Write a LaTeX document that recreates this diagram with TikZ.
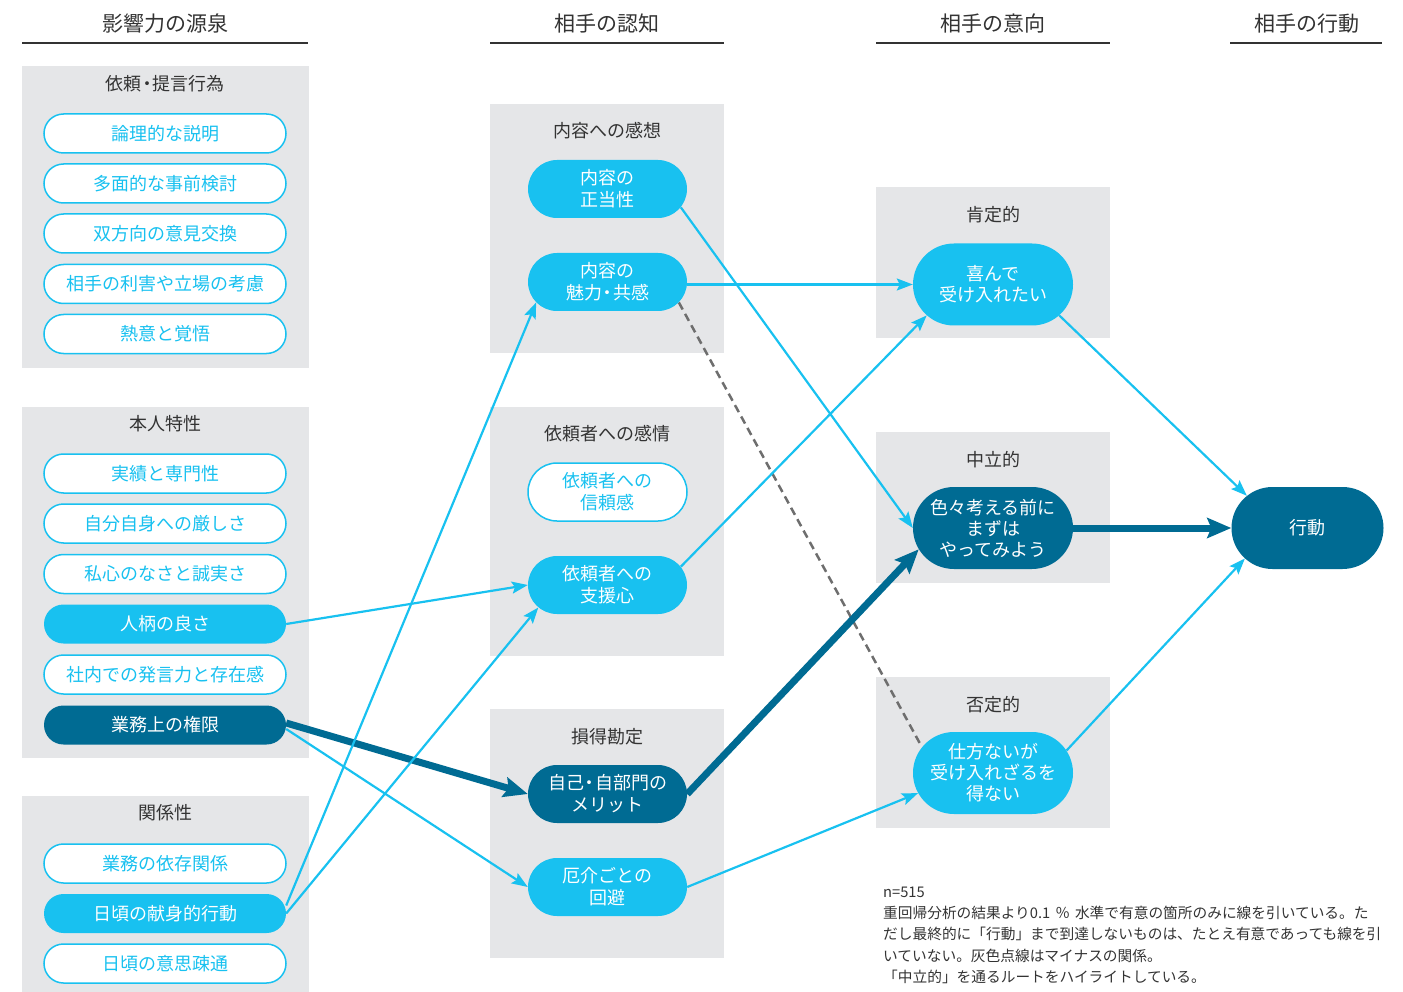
\documentclass[tikz,border=0pt]{standalone}
\usepackage{fontspec}
\setmainfont{Noto Sans CJK JP}
\usetikzlibrary{shapes.misc,arrows.meta,calc}
\definecolor{lb}{RGB}{24,193,240}
\definecolor{db}{RGB}{0,107,147}
\definecolor{bx}{RGB}{229,230,232}
\definecolor{tx}{RGB}{51,51,51}
\definecolor{dg}{RGB}{110,110,110}
\pgfdeclarelayer{bglayer}
\pgfdeclarelayer{edgelayer}
\pgfsetlayers{bglayer,edgelayer,main}
\newcommand{\nakaguro}{\hspace{-3.5pt}・\hspace{-3.5pt}}
\begin{document}
\begin{tikzpicture}[x=1pt,y=-1pt,
  grp/.style={fill=bx, inner sep=0pt},
  hdr/.style={text=tx, font=\fontsize{21}{25}\selectfont, inner sep=0pt},
  hline/.style={draw=tx, line width=2pt},
  gtitle/.style={text=tx, font=\fontsize{18}{21}\selectfont, inner sep=0pt},
  pill/.style={rounded rectangle, inner sep=0pt, align=center},
  lnode/.style={pill, minimum width=242pt, minimum height=39pt, font=\fontsize{18}{21}\selectfont},
  mnode/.style={pill, minimum width=159pt, minimum height=58pt, font=\fontsize{18}{22}\selectfont},
  rnode/.style={pill, minimum width=160pt, minimum height=82pt, font=\fontsize{18}{21}\selectfont},
  outl/.style={draw=lb, line width=1.5pt, fill=white, text=lb},
  lfill/.style={fill=lb, text=white},
  dfill/.style={fill=db, text=white},
  la/.style={draw=lb, line width=2.2pt, -{Stealth[length=16pt,width=12pt,inset=3pt]}},
  da/.style={draw=db, line width=7pt, -{Stealth[length=24pt,width=20pt,inset=4pt]}},
  dl/.style={draw=dg, line width=2.5pt, dash pattern=on 8pt off 5pt},
  note/.style={text=tx, font=\fontsize{14.7}{21.4}\selectfont, align=left, inner sep=0pt}
]
\useasboundingbox (0,0) rectangle (1403,992);

% headers
\node[hdr] (h1) at (165,24) {影響力の源泉};
\node[hdr] (h2) at (607,24) {相手の認知};
\node[hdr] (h3) at (993,24) {相手の意向};
\node[hdr] (h4) at (1307,24) {相手の行動};
\draw[hline] (22,43) -- (308,43);
\draw[hline] (490,43) -- (724,43);
\draw[hline] (876,43) -- (1110,43);
\draw[hline] (1230,43) -- (1382,43);

% group boxes
\begin{pgfonlayer}{bglayer}
\node[grp, minimum width=287pt, minimum height=302pt] (g1) at (165.5,217) {};
\node[grp, minimum width=287pt, minimum height=351pt] (g2) at (165.5,582.5) {};
\node[grp, minimum width=287pt, minimum height=196pt] (g3) at (165.5,894) {};
\node[grp, minimum width=234pt, minimum height=249pt] (m1) at (607,228.5) {};
\node[grp, minimum width=234pt, minimum height=249pt] (m2) at (607,531.5) {};
\node[grp, minimum width=234pt, minimum height=249pt] (m3) at (607,833.5) {};
\node[grp, minimum width=234pt, minimum height=151pt] (r1) at (993,262.5) {};
\node[grp, minimum width=234pt, minimum height=151pt] (r2) at (993,507.5) {};
\node[grp, minimum width=234pt, minimum height=151pt] (r3) at (993,752.5) {};
\end{pgfonlayer}

% group titles
\node[gtitle] (t1) at (165,84) {依頼\nakaguro 提言行為};
\node[gtitle] (t2) at (165,424) {本人特性};
\node[gtitle] (t3) at (165,813) {関係性};
\node[gtitle] (t4) at (607,131) {内容への感想};
\node[gtitle] (t5) at (607,434) {依頼者への感情};
\node[gtitle] (t6) at (607,737) {損得勘定};
\node[gtitle] (t7) at (993,215) {肯定的};
\node[gtitle] (t8) at (993,460) {中立的};
\node[gtitle] (t9) at (993,705) {否定的};

% left nodes
\node[lnode, outl] (ronri) at (165,133.5) {論理的な説明};
\node[lnode, outl] (tamen) at (165,183.5) {多面的な事前検討};
\node[lnode, outl] (sohoko) at (165,233.5) {双方向の意見交換};
\node[lnode, outl] (rigai) at (165,284) {相手の利害や立場の考慮};
\node[lnode, outl] (netsui) at (165,334) {熱意と覚悟};

\node[lnode, outl] (jisseki) at (165,473.5) {実績と専門性};
\node[lnode, outl] (jibun) at (165,523.5) {自分自身への厳しさ};
\node[lnode, outl] (shishin) at (165,574) {私心のなさと誠実さ};
\node[lnode, lfill] (hito) at (165,624) {人柄の良さ};
\node[lnode, outl] (shanai) at (165,674.5) {社内での発言力と存在感};
\node[lnode, dfill] (gyomu) at (165,725) {業務上の権限};

\node[lnode, outl] (izon) at (165,863.5) {業務の依存関係};
\node[lnode, lfill] (kenshin) at (165,913.5) {日頃の献身的行動};
\node[lnode, outl] (ishi) at (165,963.5) {日頃の意思疎通};

% middle nodes
\node[mnode, lfill] (seito) at (607.5,189) {内容の\\正当性};
\node[mnode, lfill] (miryoku) at (607.5,282) {内容の\\魅力\nakaguro 共感};
\node[mnode, outl] (shinrai) at (607.5,492) {依頼者への\\信頼感};
\node[mnode, lfill] (shien) at (607.5,585) {依頼者への\\支援心};
\node[mnode, dfill] (merit) at (607.5,794) {自己\nakaguro 自部門の\\メリット};
\node[mnode, lfill] (kaihi) at (607.5,887) {厄介ごとの\\回避};

% right nodes
\node[rnode, lfill] (yorokobi) at (993,284.5) {喜んで\\受け入れたい};
\node[rnode, dfill] (churitsu) at (993,528) {色々考える前に\\まずは\\やってみよう};
\node[rnode, lfill] (shikata) at (993,773) {仕方ないが\\受け入れざるを\\得ない};
\node[rnode, dfill, minimum width=152pt] (kodo) at (1307.5,528) {行動};

% note
\node[note, anchor=north west] (nt) at (883,886.5) {n=515\\重回帰分析の結果より0.1\hspace{5pt}％\hspace{5pt}水準で有意の箇所のみに線を引いている。た\\だし最終的に「行動」まで到達しないものは、たとえ有意であっても線を引\\いていない。灰色点線はマイナスの関係。\\「中立的」を通るルートをハイライトしている。};

% edges
\begin{pgfonlayer}{edgelayer}
\draw[la] (hito.east) -- (shien.west);
\draw[da] ([yshift=2pt]gyomu.east) -- (merit.west);
\draw[la] ([yshift=-4pt]gyomu.east) -- (kaihi.west);
\draw[la] ([yshift=8pt]kenshin.east) -- (miryoku.196);
\draw[la] (kenshin.east) -- (shien.198);
\draw[la] (seito.-14) -- (churitsu.west);
\draw[la] (miryoku.east |- yorokobi.west) -- (yorokobi.west);
\draw[dl] (miryoku.-16) -- (shikata.160);
\draw[la] (shien.14) -- (yorokobi.205);
\draw[da] (merit.east) -- (churitsu.196);
\draw[la] (kaihi.east) -- (shikata.195);
\draw[la] (yorokobi.-25) -- (kodo.152);
\draw[da] (churitsu.east) -- (kodo.west);
\draw[la] (shikata.17) -- (kodo.206);
\end{pgfonlayer}
\end{tikzpicture}
\end{document}
